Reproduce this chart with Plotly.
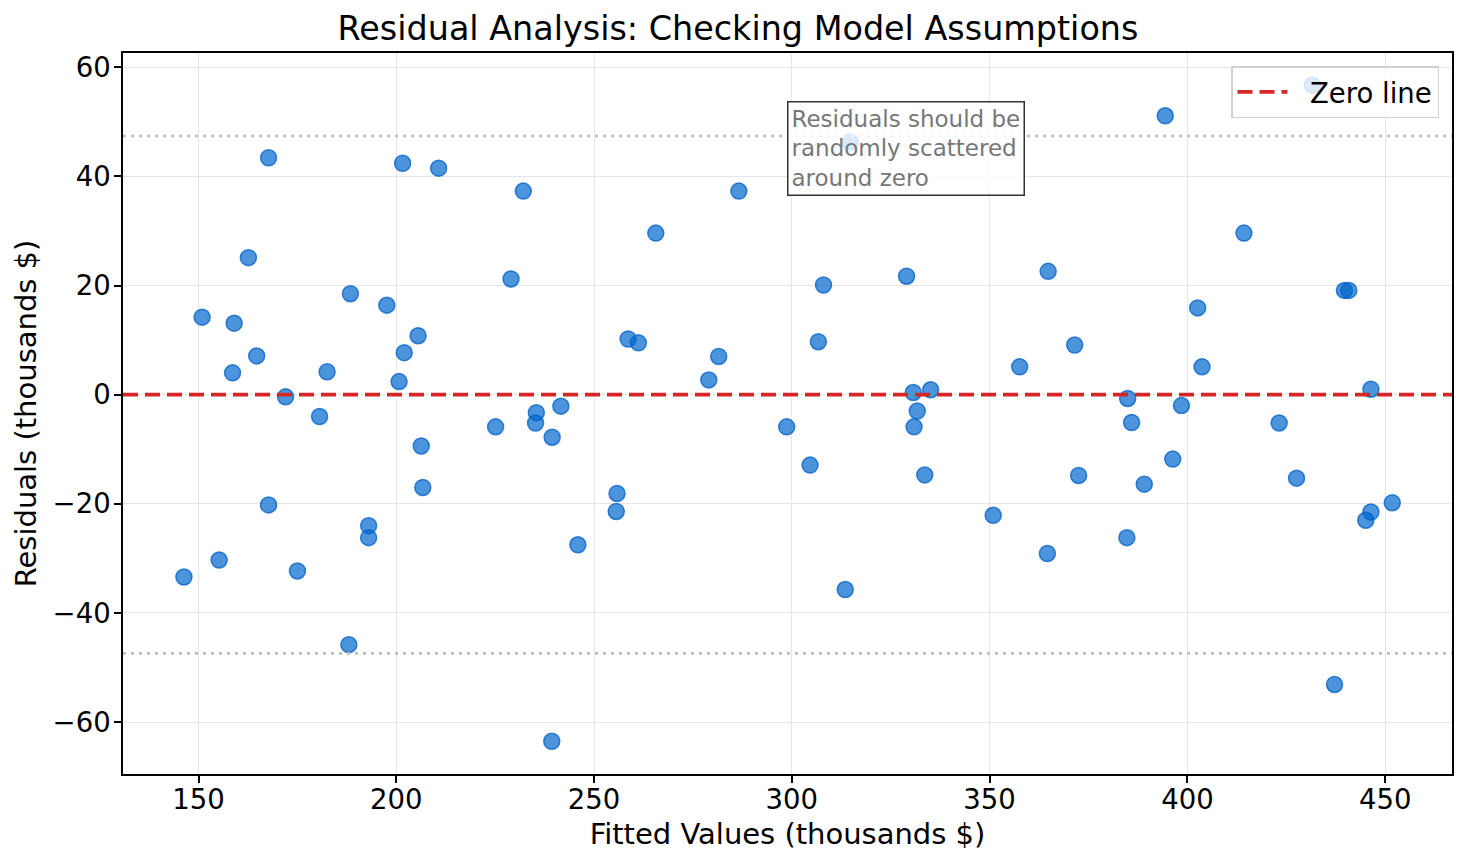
import plotly.graph_objects as go

fitted = [
    167.7, 201.6, 210.7, 232.1, 162.6, 229.0, 150.9, 188.4, 197.6, 159.0,
    205.5, 202.0, 164.7, 158.6, 182.5, 200.7, 172.0, 180.6, 241.6, 235.4,
    235.2, 225.1, 239.4, 258.6, 261.2, 206.3, 206.7, 167.7, 193.0, 193.0,
    155.2, 146.3, 175.0, 245.9, 255.8, 255.6, 188.0, 239.3, 286.6, 265.6,
    308.0, 329.0, 364.8, 281.5, 279.0, 306.7, 357.6, 330.7, 335.1, 331.7,
    330.9, 298.7, 314.7, 304.6, 333.6, 313.5, 350.9, 364.6, 394.4, 431.6,
    414.3, 439.7, 440.8, 402.6, 371.5, 403.7, 446.4, 384.9, 398.5, 385.9,
    423.2, 372.5, 384.7, 389.1, 396.3, 427.6, 446.4, 445.1, 451.8, 437.2,
]
residuals = [
    43.4, 42.4, 41.5, 37.3, 25.1, 21.2, 14.2, 18.5, 16.4, 13.1,
    10.8, 7.7, 7.1, 4.0, 4.2, 2.4, -0.4, -4.0, -2.1, -3.3,
    -5.2, -5.9, -7.8, 10.2, 9.5, -9.4, -17.0, -20.2, -24.0, -26.2,
    -30.3, -33.4, -32.3, -27.5, -18.1, -21.4, -45.8, -63.5, 37.3, 29.6,
    20.1, 21.7, 22.6, 7.0, 2.7, 9.7, 5.1, 0.4, 0.9, -3.0,
    -5.9, -5.9, 46.3, -12.9, -14.7, -35.7, -22.1, -29.1, 51.1, 56.7,
    29.6, 19.1, 19.1, 15.9, 9.1, 5.1, 1.0, -0.7, -2.0, -5.1,
    -5.2, -14.8, -26.2, -16.4, -11.8, -15.3, -21.5, -23.0, -19.8, -53.1,
]
band = 47.4  # +/- 2 std of residuals
x_ticks = [150, 200, 250, 300, 350, 400, 450]
y_ticks = [-60, -40, -20, 0, 20, 40, 60]
x_range = [130.9, 466.9]
y_range = [-69.5, 62.6]

FONT = "DejaVu Sans"
W, H = 1460, 859  # page body has an 8px margin

fig = go.Figure()

fig.add_trace(go.Scatter(
    x=fitted, y=residuals, mode="markers", showlegend=False,
    marker=dict(size=16, color="rgba(0,102,204,0.7)",
                line=dict(color="rgba(0,95,200,0.75)", width=1.5)),
    hoverinfo="skip",
))

for yv in (band, -band):
    fig.add_trace(go.Scatter(
        x=x_range, y=[yv, yv], mode="lines", showlegend=False,
        line=dict(color="#bdbdbd", width=2.6, dash="3px,5px"),
        hoverinfo="skip",
    ))

fig.add_trace(go.Scatter(
    x=x_range, y=[0, 0], mode="lines", name="\u00a0\u00a0Zero line",
    line=dict(color="#d62728", width=3.6, dash="15px,7px"),
    hoverinfo="skip",
))

fig.add_annotation(
    x=300, y=53.8, xref="x", yref="y", xanchor="left", yanchor="top",
    xshift=-5,
    text="Residuals should be<br>randomly scattered<br>around zero",
    showarrow=False, align="left",
    font=dict(family=FONT, size=23, color="#777777"),
    bgcolor="rgba(255,255,255,0.8)", bordercolor="#333333", borderwidth=1.5,
    borderpad=3,
)

axis_common = dict(
    showline=True, linecolor="black", linewidth=1.7, mirror=True,
    ticks="outside", ticklen=7, tickwidth=1.5, tickcolor="black",
    showgrid=True, gridcolor="rgb(230,230,230)", gridwidth=1.2,
    zeroline=False, automargin=False,
    tickfont=dict(family=FONT, size=27.5, color="black"),
)

fig.update_layout(
    width=W, height=H,
    margin=dict(l=115, r=16, t=45, b=93),
    paper_bgcolor="white", plot_bgcolor="white",
    title=dict(text="Residual Analysis: Checking Model Assumptions",
               x=0.5, xanchor="center", y=1 - 20 / H, yanchor="middle",
               yref="container",
               font=dict(family=FONT, size=33.4, color="black")),
    xaxis=dict(range=x_range, tickvals=x_ticks, ticklabelstandoff=-7,
               title=dict(text="Fitted Values (thousands $)", standoff=10,
                          font=dict(family=FONT, size=29, color="black")),
               **axis_common),
    yaxis=dict(range=y_range, tickvals=y_ticks, ticklabelstandoff=-2,
               title=dict(text="Residuals (thousands $)", standoff=7,
                          font=dict(family=FONT, size=29, color="black")),
               **axis_common),
    legend=dict(x=1 - 13 / 1329, y=1 - 13 / 721, xanchor="right", yanchor="top",
                bgcolor="rgba(255,255,255,0.8)", bordercolor="#d0d0d0",
                borderwidth=1.5,
                font=dict(family=FONT, size=27.5, color="black"),
                itemwidth=50),
    font=dict(family=FONT),
)

fig.write_html("out.html")
